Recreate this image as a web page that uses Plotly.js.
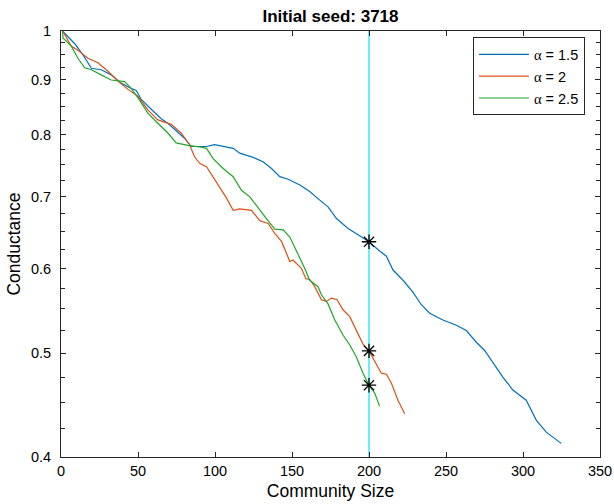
<!DOCTYPE html>
<html>
<head>
<meta charset="utf-8">
<script src="https://cdn.plot.ly/plotly-3.0.1.min.js"></script>
<style>html,body{margin:0;padding:0;background:#fff;}#chart{width:614px;height:504px;}</style>
</head>
<body>
<div id="chart"></div>
<script>
// ---- data ----
const seriesNames = ['α = 1.5', 'α = 2', 'α = 2.5'];

const blueX = [1, 8.9, 14.3, 19.7, 26.1, 32.6, 39.1, 44.6, 48.9, 52.1, 58.6, 65.1, 69.4, 73.8, 80.2, 84.6, 91, 94.5, 99.7, 102, 111.8, 116.1, 124.8, 131.2, 136.7, 142.1, 147.5, 155.1, 161.5, 168, 173.4, 178.9, 186.4, 192.9, 200, 206.9, 211.3, 215.6, 222.1, 228.6, 234, 239.4, 248, 256.7, 263.2, 269.7, 275.1, 280.5, 286.9, 293.4, 302.1, 308.6, 315.1, 323.7, 324.8];
const blueY = [1.0, 0.973, 0.950, 0.923, 0.920, 0.910, 0.894, 0.885, 0.880, 0.863, 0.845, 0.828, 0.820, 0.809, 0.794, 0.780, 0.780, 0.780, 0.783, 0.782, 0.777, 0.769, 0.762, 0.755, 0.744, 0.731, 0.727, 0.718, 0.708, 0.695, 0.685, 0.668, 0.654, 0.645, 0.6355, 0.623, 0.616, 0.598, 0.585, 0.570, 0.555, 0.545, 0.537, 0.531, 0.525, 0.512, 0.503, 0.490, 0.475, 0.462, 0.452, 0.433, 0.422, 0.413, 0.412];

const orangeX = [1, 6.7, 12.1, 17.5, 24, 30.5, 37, 43.5, 50, 56.4, 62.9, 71.6, 78, 83.5, 86.7, 90.2, 94.5, 98.8, 103.2, 107.5, 111.8, 116.1, 123.7, 129.1, 134.5, 138.8, 143.2, 146.4, 148.6, 150.7, 156.2, 159, 161.5, 164.8, 169.1, 172.4, 175.6, 179.3, 183.1, 187.5, 191.8, 196.1, 200, 203.7, 208, 211.3, 214.5, 218.8, 223.2];
const orangeY = [1.0, 0.968, 0.957, 0.943, 0.934, 0.917, 0.898, 0.882, 0.869, 0.844, 0.826, 0.818, 0.803, 0.783, 0.763, 0.752, 0.747, 0.731, 0.713, 0.698, 0.680, 0.682, 0.680, 0.665, 0.661, 0.647, 0.636, 0.620, 0.609, 0.611, 0.600, 0.587, 0.586, 0.577, 0.561, 0.559, 0.563, 0.561, 0.549, 0.541, 0.525, 0.510, 0.5026, 0.492, 0.479, 0.478, 0.469, 0.452, 0.439];

const greenX = [1, 1.3, 6.7, 11, 15.4, 19.7, 26.1, 32.6, 41.3, 45.6, 50, 56.4, 62.9, 69.4, 74.8, 82.4, 91, 94.5, 98.8, 105.3, 111.8, 117.2, 122.6, 128, 133.4, 138.8, 144.2, 148.6, 152.9, 158.3, 161.5, 166.9, 169.1, 173.4, 177.8, 183.1, 187.5, 191.8, 196.1, 200, 203.7, 206.9];
const greenY = [1.0, 0.985, 0.968, 0.943, 0.924, 0.920, 0.910, 0.900, 0.897, 0.884, 0.866, 0.838, 0.820, 0.803, 0.786, 0.782, 0.779, 0.777, 0.760, 0.744, 0.731, 0.710, 0.700, 0.683, 0.668, 0.653, 0.652, 0.642, 0.624, 0.600, 0.585, 0.577, 0.567, 0.556, 0.537, 0.520, 0.509, 0.496, 0.479, 0.4668, 0.459, 0.446];

const cutoffSize = 200;
const cutoffX = [200, 200, 200];
const cutoffY = [0.6355, 0.5026, 0.4668];

const xTickVals = [0, 50, 100, 150, 200, 250, 300, 350];
const yTickVals = [0.4, 0.5, 0.6, 0.7, 0.8, 0.9, 1];
const yTickText = ['0.4', '0.5', '0.6', '0.7', '0.8', '0.9', '1'];
const yMinorVals = [0.425, 0.45, 0.475, 0.525, 0.55, 0.575, 0.625, 0.65, 0.675, 0.725, 0.75, 0.775, 0.825, 0.85, 0.875, 0.925, 0.95, 0.975];

const colors = ['#0072BD', '#D95319', '#22A52A'];
const greek = s => s.replace('α', '<span style="font-family:\'Liberation Serif\',serif">α</span>');
const FONT = 'Liberation Sans, Arial, sans-serif';

const traces = [
  {x: blueX, y: blueY, name: greek(seriesNames[0]), mode: 'lines', line: {color: colors[0], width: 1.2}},
  {x: orangeX, y: orangeY, name: greek(seriesNames[1]), mode: 'lines', line: {color: colors[1], width: 1.2}},
  {x: greenX, y: greenY, name: greek(seriesNames[2]), mode: 'lines', line: {color: colors[2], width: 1.2}},
  {x: cutoffX, y: cutoffY, mode: 'markers', showlegend: false,
   marker: {symbol: 'asterisk-open', size: 12, color: '#000', line: {color: '#000', width: 1.3}}}
];

const axisCommon = {
  showline: true, linecolor: '#262626', linewidth: 1, mirror: 'ticks',
  ticks: 'inside', ticklen: 5, tickcolor: '#262626', tickwidth: 1,
  showgrid: false, zeroline: false,
  tickfont: {family: FONT, size: 14.5, color: '#000'}
};

const layout = {
  width: 614, height: 504,
  margin: {l: 61, r: 14, t: 31, b: 47},
  paper_bgcolor: '#fff', plot_bgcolor: '#fff',
  font: {family: FONT, color: '#000'},
  title: {text: '<b>Initial seed: 3718</b>', xref: 'paper', x: 0.5, xanchor: 'center', y: 0.968, yanchor: 'middle',
          font: {size: 17, family: FONT, color: '#000'}},
  xaxis: Object.assign({}, axisCommon, {
    range: [0, 350], tickmode: 'array', tickvals: xTickVals, ticklabelstandoff: 1,
    title: {text: 'Community Size', standoff: 6, font: {size: 17.5, color: '#000'}}
  }),
  yaxis: Object.assign({}, axisCommon, {
    type: 'log', range: [Math.log10(0.4), 0], tickmode: 'array', tickvals: yTickVals, ticktext: yTickText,
    ticklabelstandoff: 6,
    minor: {tickmode: 'array', tickvals: yMinorVals, ticks: 'inside', ticklen: 4, tickcolor: '#262626', tickwidth: 1, showgrid: false},
    title: {text: 'Conductance', standoff: 5, font: {size: 17.5, color: '#000'}}
  }),
  shapes: [{type: 'line', xref: 'x', yref: 'paper', x0: cutoffSize, x1: cutoffSize, y0: 0, y1: 1,
            line: {color: '#00E5EE', width: 1.2}, layer: 'below'}],
  legend: {x: 0.972, xanchor: 'right', y: 0.985, yanchor: 'top',
           bgcolor: '#fff', bordercolor: '#262626', borderwidth: 1,
           font: {size: 14.5, color: '#000', family: FONT},
           tracegroupgap: 0, itemwidth: 50},
  showlegend: true
};

Plotly.newPlot('chart', traces, layout, {staticPlot: true, displayModeBar: false});
</script>
</body>
</html>
